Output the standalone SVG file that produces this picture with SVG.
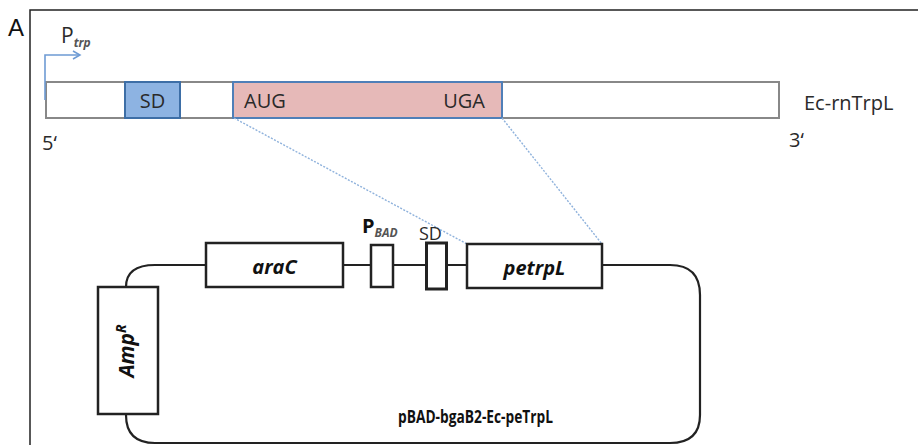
<svg xmlns="http://www.w3.org/2000/svg" width="919" height="445" viewBox="0 0 919 445">
  <style>
    .t { font-family: "Open Sans", "Liberation Sans", sans-serif; fill: #2a2a2a; }
    .b { fill: #111; font-weight: bold; }
    .frame { fill: none; stroke: #222; stroke-width: 1.5; }
    .rna { fill: #fff; stroke: #888; stroke-width: 2; }
    .gene { fill: #fff; stroke: #222; stroke-width: 2.5; }
    .guide { fill: none; stroke: #8fb2dc; stroke-width: 1.4; stroke-dasharray: 2 1.5; }
    .bb { fill: none; stroke: #222; stroke-width: 2.2; }
  </style>
  <defs>
    <marker id="arr" markerWidth="10" markerHeight="10" refX="8" refY="5" orient="auto" markerUnits="userSpaceOnUse">
      <path d="M1,1 L8,5 L1,9" fill="none" stroke="#6e9bd4" stroke-width="1.5"/>
    </marker>
  </defs>

  <!-- panel frame and label -->
  <path class="frame" d="M30,445 V10 H918"/>
  <text x="8" y="36" font-family="Liberation Sans, sans-serif" font-size="24" fill="#111">A</text>

  <!-- mRNA bar -->
  <g id="mrna">
    <rect class="rna" x="46" y="82" width="733" height="36"/>
    <text class="t" x="42" y="150" font-size="20">5‘</text>
    <text class="t" x="789" y="147" font-size="20">3‘</text>
    <text class="t" x="804" y="110" font-size="20">Ec-rnTrpL</text>
  </g>

  <!-- promoter arrow -->
  <g id="ptrp">
    <path d="M45,100 V55 H80" fill="none" stroke="#6e9bd4" stroke-width="1.6" marker-end="url(#arr)"/>
    <text class="t" x="61" y="43" font-size="21">P<tspan font-size="12" font-style="italic" font-weight="bold" dy="4" fill="#555">trp</tspan></text>
  </g>

  <g id="sd">
    <rect x="125" y="82" width="55" height="36" fill="#8db3e2" stroke="#3d6ea6" stroke-width="2"/>
    <text class="t" x="152.5" y="108" font-size="20" text-anchor="middle">SD</text>
  </g>

  <g id="orf">
    <rect x="233" y="82" width="269" height="36" fill="#e6b9b8" stroke="#4f7fb8" stroke-width="2"/>
    <text class="t" x="244" y="108" font-size="20">AUG</text>
    <text class="t" x="485" y="108" font-size="20" text-anchor="end">UGA</text>
  </g>

  <!-- connectors: zoom guides and plasmid backbone -->
  <g id="connectors">
    <path class="guide" d="M234,118 L467,244"/>
    <path class="guide" d="M502,118 L602,244"/>
    <path class="bb" d="M126,287 Q126,265 155,265 H206 M343,265 H371 M393,265 H426 M447,265 H467 M602,265 H670 Q700,265 700,295 V415 Q700,443 670,443 H155 Q126,443 126,415"/>
  </g>

  <g id="araC">
    <rect class="gene" x="206" y="243" width="137" height="44"/>
    <text class="t b" x="274.5" y="274" font-size="20" font-style="italic" text-anchor="middle">araC</text>
  </g>

  <g id="pbad">
    <rect class="gene" x="371" y="245" width="22" height="42"/>
    <text class="t b" x="362" y="233" font-size="20">P<tspan font-size="12" font-style="italic" dy="4" fill="#555">BAD</tspan></text>
  </g>

  <g id="sd2">
    <rect x="426.5" y="243" width="20" height="46" fill="#fff" stroke="#222" stroke-width="3"/>
    <text class="t" x="419" y="240" font-size="18" fill="#111">SD</text>
  </g>

  <g id="petrpL">
    <rect class="gene" x="467" y="244" width="135" height="44"/>
    <text class="t b" x="534.5" y="275" font-size="20" font-style="italic" text-anchor="middle">petrpL</text>
  </g>

  <g id="ampR">
    <rect class="gene" x="98" y="287" width="60" height="127"/>
    <text class="t b" transform="translate(134,351) rotate(-90)" font-size="21" font-style="italic" text-anchor="middle">Amp<tspan font-size="14" dy="-8">R</tspan></text>
  </g>

  <text class="t b" x="398" y="423" font-size="17.5" textLength="155" lengthAdjust="spacingAndGlyphs">pBAD-bgaB2-Ec-peTrpL</text>
</svg>
